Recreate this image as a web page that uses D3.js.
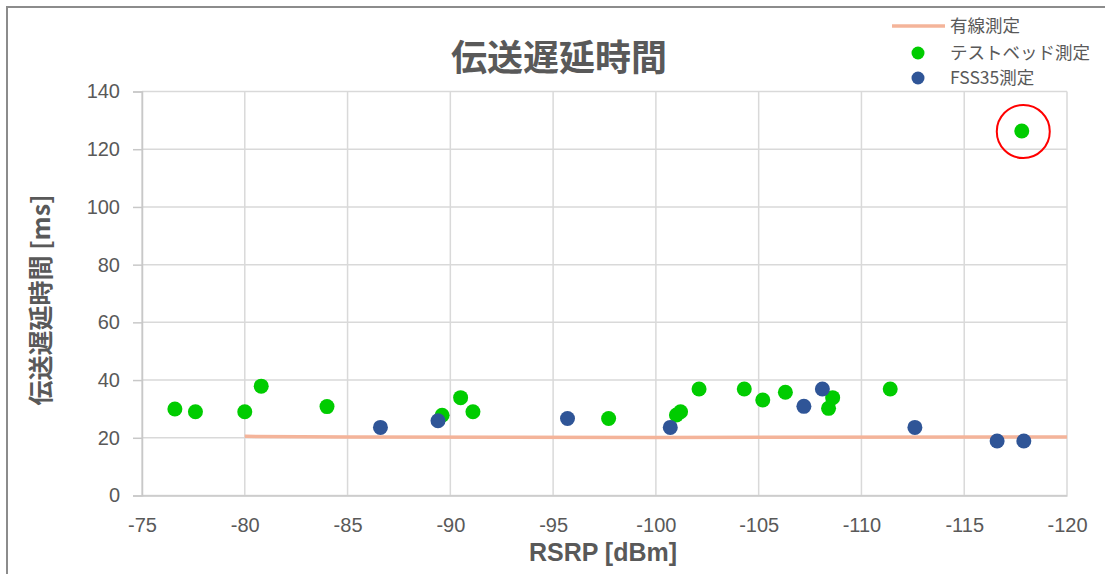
<!DOCTYPE html>
<html><head><meta charset="utf-8">
<script src="https://cdn.jsdelivr.net/npm/d3@7"></script>
<style>body{margin:0;background:#fff;}svg{display:block;}</style>
</head><body>
<svg id="chart" width="1105" height="574"></svg>
<script>
// ---- data ----
const title = "伝送遅延時間";
const xLabel = "RSRP [dBm]";
const yLabel = "伝送遅延時間 [ms]";
const seriesNames = ["有線測定", "テストベッド測定", "FSS35測定"];
const xTicks = [-75, -80, -85, -90, -95, -100, -105, -110, -115, -120];
const yTicks = [0, 20, 40, 60, 80, 100, 120, 140];

const wiredX = [-80, -85, -100, -120];
const wiredY = [20.5, 20.3, 20.1, 20.3];

const testbedX = [-76.6, -77.6, -80.0, -80.8, -84.0, -89.6, -90.5, -91.1, -97.7, -101.0, -101.2, -102.1, -104.3, -105.2, -106.3, -108.4, -108.6, -111.4, -117.8];
const testbedY = [30.0, 29.0, 29.0, 37.9, 30.8, 27.8, 33.9, 29.0, 26.7, 27.9, 29.0, 36.9, 36.9, 33.1, 35.8, 30.2, 33.9, 36.9, 126.3];

const fssX = [-86.6, -89.4, -95.7, -100.7, -107.2, -108.1, -112.6, -116.6, -117.9];
const fssY = [23.6, 25.9, 26.7, 23.6, 30.9, 36.9, 23.6, 18.9, 18.9];

const highlightX = -117.8, highlightY = 126.3;

// ---- drawing ----
(function () {
const svg = d3.select("#chart");
const mLeft = 142, mRight = 1067, mTop = 91.5, mBottom = 495.5;
const x = d3.scaleLinear().domain([-75, -120]).range([mLeft, mRight]);
const y = d3.scaleLinear().domain([0, 140]).range([mBottom, mTop]);
const textColor = "#595959";
const numFont = "'Liberation Sans', Arial, sans-serif";
const cjkFont = "'Noto Sans CJK JP', 'Noto Sans', sans-serif";

// outer frame (right and bottom edges fall outside the picture)
svg.append("rect").attr("x", 7).attr("y", 7).attr("width", 1110).attr("height", 580)
  .attr("fill", "none").attr("stroke", "#8c8c8c").attr("stroke-width", 2);

// gridlines
const grid = svg.append("g");
grid.selectAll("line.v").data(xTicks).join("line")
  .attr("x1", d => x(d)).attr("x2", d => x(d)).attr("y1", mTop).attr("y2", mBottom)
  .attr("stroke", "#d9d9d9").attr("stroke-width", 1.5);
grid.selectAll("line.h").data(yTicks).join("line")
  .attr("x1", mLeft).attr("x2", mRight).attr("y1", d => y(d)).attr("y2", d => y(d))
  .attr("stroke", "#d9d9d9").attr("stroke-width", 1.5);

// axes
const yAxis = svg.append("g").attr("transform", `translate(${mLeft},0)`)
  .call(d3.axisLeft(y).tickValues(yTicks).tickSize(9).tickPadding(13));
yAxis.select(".domain").attr("stroke", "#c8c8c8").attr("stroke-width", 1.5);
yAxis.selectAll(".tick line").attr("stroke", "#c8c8c8").attr("stroke-width", 1.5);
yAxis.selectAll(".tick text").attr("fill", textColor).style("font-size", "20px").style("font-family", numFont);

const xAxis = svg.append("g").attr("transform", `translate(0,${mBottom})`)
  .call(d3.axisBottom(x).tickValues(xTicks).tickSize(0).tickPadding(22).tickFormat(d => d));
xAxis.select(".domain").attr("stroke", "#c8c8c8").attr("stroke-width", 1.5);
xAxis.selectAll(".tick text").attr("fill", textColor).style("font-size", "20px").style("font-family", numFont);

// wired line
svg.append("path").datum(wiredX.map((d, i) => [d, wiredY[i]]))
  .attr("d", d3.line().x(d => x(d[0])).y(d => y(d[1])))
  .attr("fill", "none").attr("stroke", "#f4b49a").attr("stroke-width", 3.5);

// testbed points
svg.append("g").selectAll("circle").data(testbedX.map((d, i) => [d, testbedY[i]])).join("circle")
  .attr("cx", d => x(d[0])).attr("cy", d => y(d[1])).attr("r", 7.5).attr("fill", "#00cc00");

// FSS35 points
svg.append("g").selectAll("circle").data(fssX.map((d, i) => [d, fssY[i]])).join("circle")
  .attr("cx", d => x(d[0])).attr("cy", d => y(d[1])).attr("r", 7.5).attr("fill", "#2f5597");

// highlight circle
svg.append("circle").attr("cx", x(highlightX) + 1.5).attr("cy", y(highlightY) + 0.5).attr("r", 26.5)
  .attr("fill", "none").attr("stroke", "#ff0000").attr("stroke-width", 2);

// title
svg.append("text").attr("x", 559).attr("y", 71).attr("text-anchor", "middle")
  .attr("fill", textColor).style("font-family", cjkFont).style("font-weight", "bold").style("font-size", "36px")
  .text(title);

// axis titles
svg.append("text").attr("x", 603).attr("y", 561).attr("text-anchor", "middle")
  .attr("fill", textColor).style("font-family", "'Liberation Sans Narrow', 'Liberation Sans', sans-serif")
  .style("font-weight", "bold").style("font-size", "25px").text(xLabel);

svg.append("text").attr("transform", "translate(50,300) rotate(-90)").attr("text-anchor", "middle")
  .attr("fill", textColor).style("font-family", cjkFont).style("font-weight", "bold").style("font-size", "25px")
  .text(yLabel);

// legend
const lg = svg.append("g");
const rows = [26, 53, 78];
lg.append("line").attr("x1", 892).attr("x2", 945).attr("y1", rows[0]).attr("y2", rows[0])
  .attr("stroke", "#f4b49a").attr("stroke-width", 3.5);
lg.append("circle").attr("cx", 918).attr("cy", rows[1]).attr("r", 6.5).attr("fill", "#00cc00");
lg.append("circle").attr("cx", 918).attr("cy", rows[2]).attr("r", 6.5).attr("fill", "#2f5597");
lg.selectAll("text").data(seriesNames).join("text")
  .attr("x", 950).attr("y", (d, i) => rows[i]).attr("dy", "0.36em")
  .attr("fill", textColor).style("font-family", cjkFont).style("font-size", "17.5px")
  .text(d => d);
})();
</script>
</body></html>
